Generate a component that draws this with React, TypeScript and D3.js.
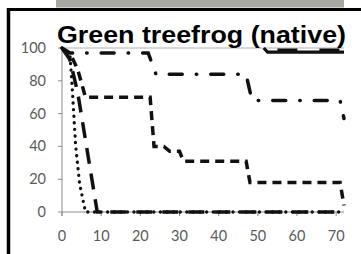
import * as d3 from "d3";

type Pt = [number, number];

const xTicks = [0, 10, 20, 30, 40, 50, 60, 70];
const yTicks = [0, 20, 40, 60, 80, 100];

// survival (%) against day
const dottedSeries: Pt[] = [[0, 100], [2, 97], [2.5, 80], [3.5, 40], [4.5, 17], [6, 0], [72, 0]];
const longDashSeries: Pt[] = [[0, 100], [2, 93], [4, 73], [9, 0], [72, 0]];
const dashedSeries: Pt[] = [
  [0, 100], [2, 97], [4, 87], [6, 70], [22.5, 70], [23.5, 40], [26, 40], [27.5, 37],
  [30, 37], [31, 31], [47, 31], [48, 18], [71, 18], [72, 4],
];
const dashDotSeries: Pt[] = [
  [0, 100], [1, 97], [22, 97], [24, 84], [47, 84], [48.5, 68], [71, 68], [72, 57],
];
const solidSeries: Pt[] = [[51.5, 100], [52.5, 97.5], [72, 97.5]];
const upperDashSeries: Pt[] = [[55, 99], [72, 99]];

const W = 361;
const H = 254;

export default function App() {
  const x = d3.scaleLinear().domain([0, 72]).range([62, 344]);
  const y = d3.scaleLinear().domain([0, 100]).range([212, 48]);
  const line = d3
    .line<Pt>()
    .x((d) => x(d[0]))
    .y((d) => y(d[1]));

  const axisColor = "#8a8a8a";
  const labelColor = "#5a5a5a";

  return (
    <svg
      width={W}
      height={H}
      style={{ position: "absolute", left: 0, top: 0, background: "#fff" }}
    >
      <rect x={56} y={0} width={288} height={7.5} fill="#a9a9a1" />
      <line x1={8.5} y1={8} x2={8.5} y2={H} stroke="#000" strokeWidth={3.5} />
      <line x1={7} y1={9.5} x2={W} y2={9.5} stroke="#000" strokeWidth={3} />

      {/* axes */}
      <line x1={x(0)} y1={y(0)} x2={x(72)} y2={y(0)} stroke={axisColor} strokeWidth={1} />
      <line x1={x(0)} y1={y(0) + 4} x2={x(0)} y2={y(100)} stroke={axisColor} strokeWidth={1} />
      <line x1={x(0)} y1={y(100)} x2={x(72)} y2={y(100)} stroke="#b0b0b0" strokeWidth={1} />
      {yTicks.map((t) => (
        <g key={"y" + t}>
          <line x1={x(0) - 4} y1={y(t)} x2={x(0)} y2={y(t)} stroke={axisColor} />
          <text
            x={46}
            y={y(t) + 5}
            textAnchor="end"
            fontFamily="Lato, 'Open Sans', sans-serif"
            fontSize={14.5}
            fill={labelColor}
          >
            {t}
          </text>
        </g>
      ))}
      {xTicks.map((t) => (
        <g key={"x" + t}>
          <line x1={x(t)} y1={y(0)} x2={x(t)} y2={y(0) + 4} stroke={axisColor} />
          <text
            x={x(t)}
            y={241}
            textAnchor="middle"
            fontFamily="Lato, 'Open Sans', sans-serif"
            fontSize={14.5}
            fill={labelColor}
          >
            {t}
          </text>
        </g>
      ))}

      {/* series */}
      <path d={line(solidSeries) ?? ""} fill="none" stroke="#111" strokeWidth={3.2} />
      <path d={line(upperDashSeries) ?? ""} fill="none" stroke="#111" strokeWidth={2.5} strokeDasharray="20 22" />
      <path d={line(dashDotSeries) ?? ""} fill="none" stroke="#111" strokeWidth={3.5} strokeLinecap="round" strokeDasharray="13 14 0.5 14" />
      <path d={line(dashedSeries) ?? ""} fill="none" stroke="#111" strokeWidth={3.5} strokeDasharray="9 6" />
      <path d={line(longDashSeries) ?? ""} fill="none" stroke="#111" strokeWidth={3.5} strokeDasharray="16 10" />
      <path d={line(dottedSeries) ?? ""} fill="none" stroke="#111" strokeWidth={3.3} strokeLinecap="round" strokeDasharray="0.1 6.5" />

      <text
        x={57}
        y={43}
        fontFamily="'Liberation Sans', Arial, sans-serif"
        fontWeight="bold"
        fontSize={23}
        textLength={289}
        lengthAdjust="spacingAndGlyphs"
        fill="#000"
      >
        Green treefrog (native)
      </text>
    </svg>
  );
}
